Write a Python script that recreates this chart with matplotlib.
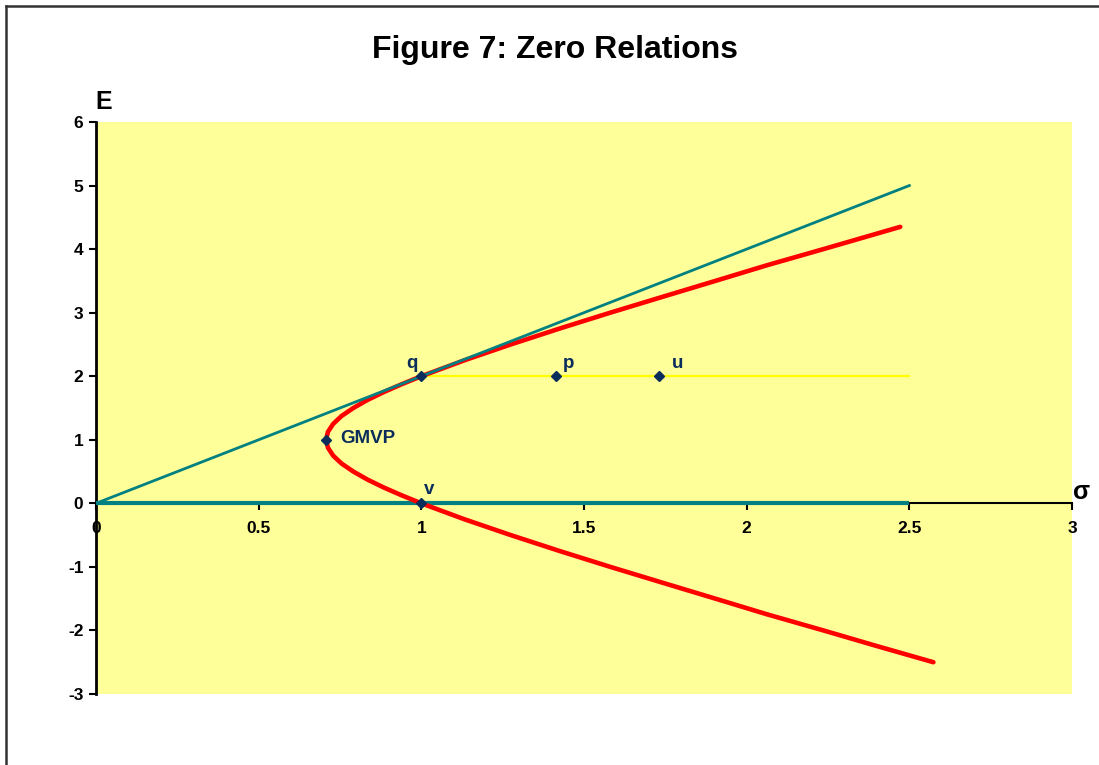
import matplotlib
matplotlib.use("Agg")
import matplotlib.pyplot as plt

plt.rcParams['font.family'] = ['Liberation Sans', 'DejaVu Sans']
plt.rcParams['axes.unicode_minus'] = False

# Frontier (red): sigma, E
frontier_sigma = [2.472, 2.236, 2.065, 1.904, 1.742, 1.581, 1.425, 1.275, 1.132, 1.0, 0.940,
                  0.884, 0.834, 0.791, 0.755, 0.729, 0.713, 0.707, 0.713, 0.729, 0.755,
                  0.791, 0.834, 0.884, 0.940, 1.0, 1.132, 1.275, 1.425, 1.581, 1.742,
                  1.904, 2.065, 2.236, 2.403, 2.574]
frontier_E = [4.35, 4.0, 3.75, 3.5, 3.25, 3.0, 2.75, 2.5, 2.25, 2.0, 1.875,
              1.75, 1.625, 1.5, 1.375, 1.25, 1.125, 1.0, 0.875, 0.75, 0.625,
              0.5, 0.375, 0.25, 0.125, 0.0, -0.25, -0.5, -0.75, -1.0, -1.25,
              -1.5, -1.75, -2.0, -2.25, -2.5]

# Tangent line (teal) from origin
tangent_sigma = [0.0, 2.5]
tangent_E = [0.0, 5.0]

# Zero-return line (teal) along the sigma axis
zero_sigma = [0.0, 2.5]
zero_E = [0.0, 0.0]

# Yellow horizontal line at E = 2
level_sigma = [1.0, 2.5]
level_E = [2.0, 2.0]

# Labelled points
pt_names = ['q', 'p', 'u', 'GMVP', 'v']
pt_sigma = [1.0, 1.414, 1.732, 0.707, 1.0]
pt_E = [2.0, 2.0, 2.0, 1.0, 0.0]

x_ticks = [0, 0.5, 1, 1.5, 2, 2.5, 3]
x_tick_labels = ['0', '0.5', '1', '1.5', '2', '2.5', '3']
y_ticks = [-3, -2, -1, 0, 1, 2, 3, 4, 5, 6]

W, H = 1099, 765
fig = plt.figure(figsize=(W / 100, H / 100), dpi=100)
fig.patch.set_facecolor('white')

# Figure border (top and left visible)
fig.add_artist(plt.Line2D([6 / W, 6 / W], [0, 1 - 6 / H], transform=fig.transFigure,
                          color='#333333', lw=1.8))
fig.add_artist(plt.Line2D([6 / W, 1], [1 - 6 / H, 1 - 6 / H], transform=fig.transFigure,
                          color='#333333', lw=1.8))

left, right, top, bottom = 96, 1072, 122, 694
ax = fig.add_axes([left / W, 1 - bottom / H, (right - left) / W, (bottom - top) / H])
ax.set_facecolor('#FFFF99')
ax.set_xlim(0, 3)
ax.set_ylim(-3, 6)

ax.plot(level_sigma, level_E, color='#FFFF00', lw=1.6, zorder=2)
ax.plot(zero_sigma, zero_E, color='#008080', lw=3.0, zorder=3, solid_capstyle='butt')
ax.plot(frontier_sigma, frontier_E, color='#FF0000', lw=3.3, zorder=4,
        solid_joinstyle='round', solid_capstyle='round')
ax.plot(tangent_sigma, tangent_E, color='#008080', lw=2.0, zorder=5)
ax.plot(pt_sigma, pt_E, linestyle='none', marker='D', markersize=5.5,
        color='#0B2D5B', zorder=6)

label_offsets = {'q': (-7, 3, 'center'), 'p': (5, 3, 'left'), 'u': (9, 3, 'left'),
                 'GMVP': (10, 1, 'left'), 'v': (2, 4, 'left')}
for name, s, e in zip(pt_names, pt_sigma, pt_E):
    dx, dy, ha = label_offsets[name]
    va = 'center' if name == 'GMVP' else 'bottom'
    ax.annotate(name, (s, e), xytext=(dx, dy), textcoords='offset points',
                ha=ha, va=va, fontsize=13.5, fontweight='bold', color='#0B2D5B', zorder=7)

for side in ['top', 'right']:
    ax.spines[side].set_visible(False)
ax.spines['bottom'].set_position(('data', 0))
ax.spines['bottom'].set_linewidth(1.5)
ax.spines['left'].set_linewidth(2.0)
ax.spines['bottom'].set_zorder(1)

ax.set_xticks(x_ticks)
ax.set_xticklabels(x_tick_labels)
ax.set_yticks(y_ticks)
ax.tick_params(axis='x', direction='out', length=5, width=1.5, pad=8,
               labelsize=12.5)
ax.tick_params(axis='y', direction='out', length=5, width=1.5, pad=4,
               labelsize=12.5)
for lab in ax.get_xticklabels() + ax.get_yticklabels():
    lab.set_fontweight('bold')

fig.text(555 / W, 1 - 50 / H, 'Figure 7: Zero Relations', ha='center', va='center',
         fontsize=23, fontweight='bold')
fig.text(104 / W, 1 - 102 / H, 'E', ha='center', va='center', fontsize=18,
         fontweight='bold')
fig.text(1082 / W, 1 - 492 / H, 'σ', ha='center', va='center', fontsize=18,
         fontweight='bold')

fig.savefig('out.png', dpi=100)
